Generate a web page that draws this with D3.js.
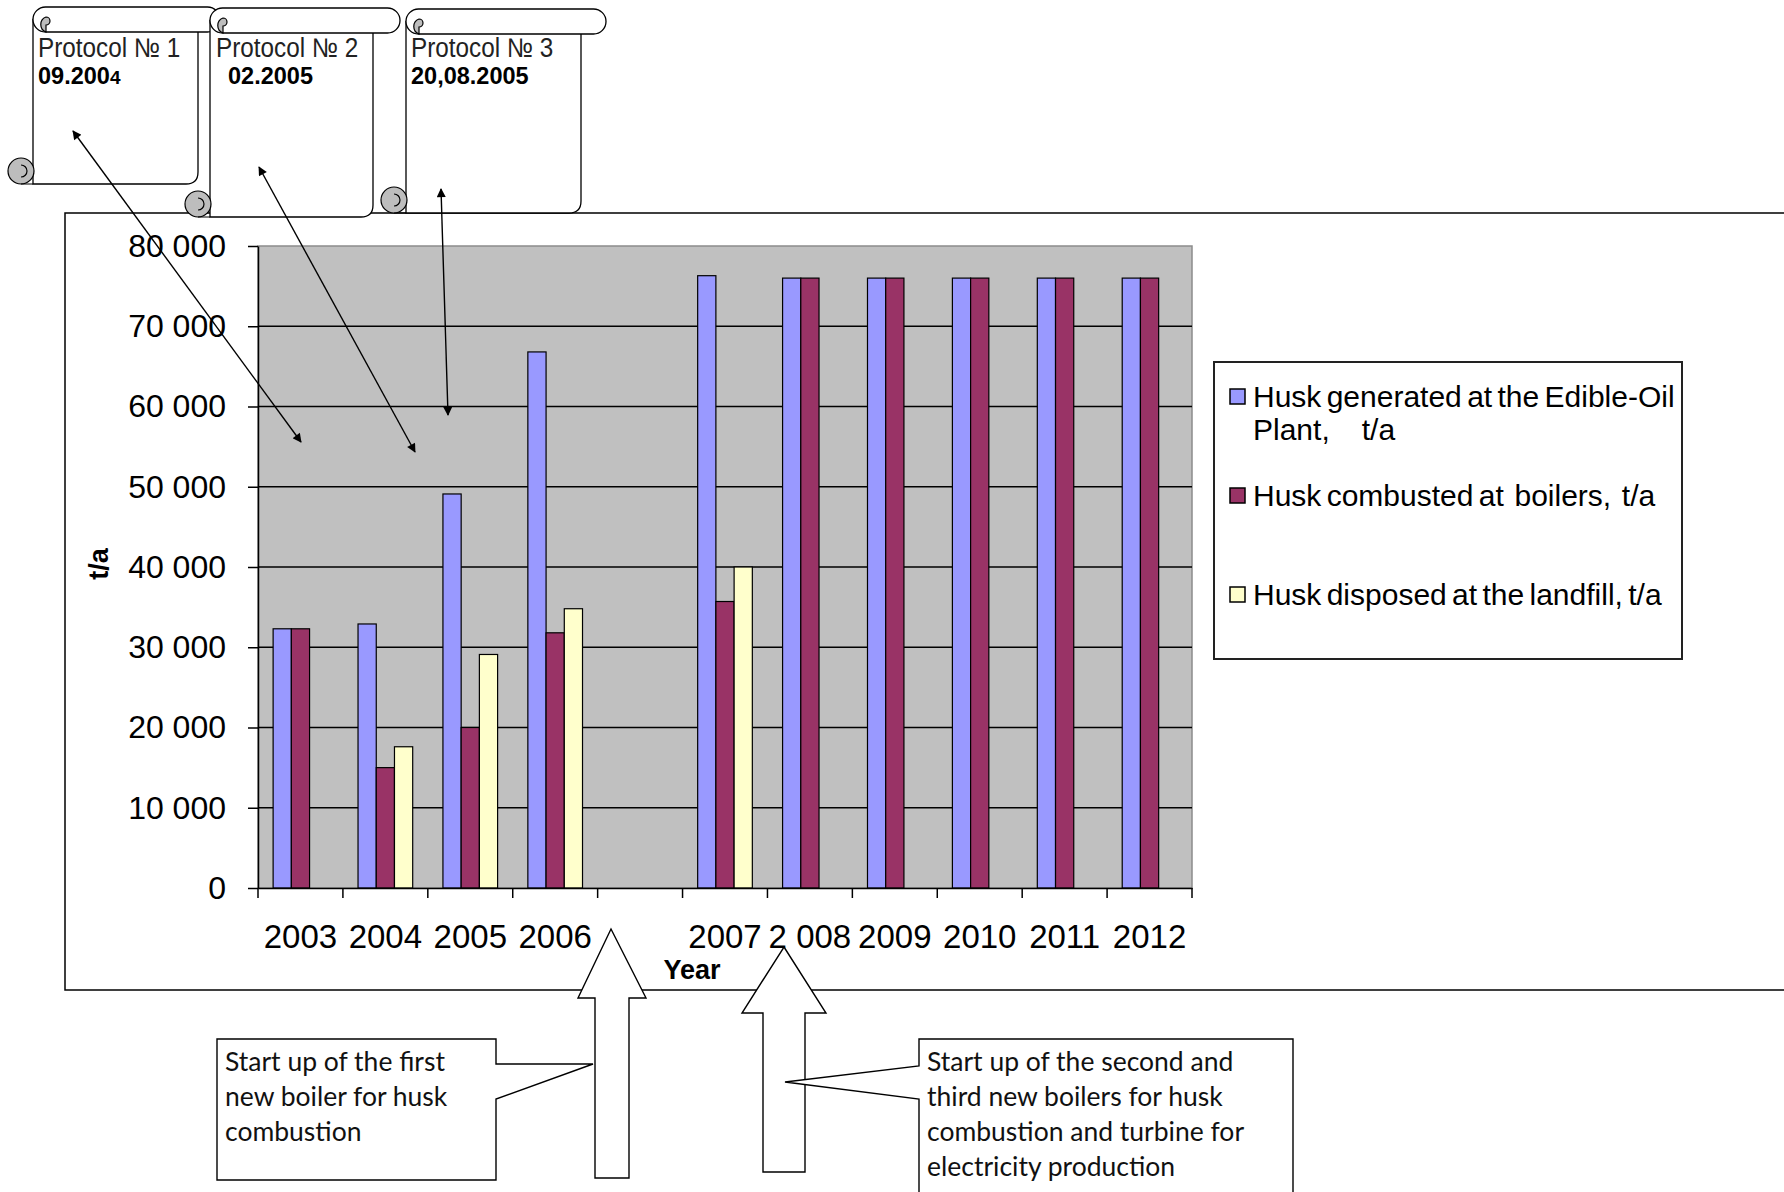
<!DOCTYPE html>
<html>
<head>
<meta charset="utf-8">
<script src="https://cdn.jsdelivr.net/npm/d3@7"></script>
<style>
body { margin: 0; background: #fff; }
text { font-family: "Liberation Sans", Arial, sans-serif; }
</style>
</head>
<body>
<div id="chart-area"></div>
<script>
// data (t/a)
var years = ["2003", "2004", "2005", "2006", "", "2007", "2 008", "2009", "2010", "2011", "2012"];
var generated = [32300, 32900, 49100, 66800, null, 76300, 76000, 76000, 76000, 76000, 76000];
var combusted = [32300, 15000, 20000, 31800, null, 35700, 76000, 76000, 76000, 76000, 76000];
var disposed  = [null, 17600, 29100, 34800, null, 40000, null, null, null, null, null];
var seriesNames = [["Husk generated at the Edible-Oil", "Plant,      t/a"],
                   ["Husk combusted at  boilers,  t/a"],
                   ["Husk disposed at the landfill, t/a"]];
var seriesColors = ["#9999FF", "#993366", "#FFFFCC"];
var yTicks = [0, 10000, 20000, 30000, 40000, 50000, 60000, 70000, 80000];

var protocols = [
  {title: "Protocol № 1", date: "09.200", small: "4"},
  {title: "Protocol № 2", date: "02.2005", small: ""},
  {title: "Protocol № 3", date: "20,08.2005", small: ""}
];
var notes = [
  ["Start up of the first", "new boiler for husk", "combustion"],
  ["Start up of the second and", "third new boilers for husk", "combustion and turbine for", "electricity production"]
];

var W = 1784, H = 1192;
var plot = {left: 258, right: 1192, top: 246, bottom: 888};

var svg = d3.select("#chart-area").append("svg").attr("width", W).attr("height", H);

var defs = svg.append("defs");
defs.append("marker").attr("id", "head").attr("viewBox", "0 0 10 10").attr("refX", 9).attr("refY", 5)
  .attr("markerWidth", 11).attr("markerHeight", 9).attr("markerUnits", "userSpaceOnUse")
  .attr("orient", "auto-start-reverse")
  .append("path").attr("d", "M0,0 L10,5 L0,10 Z").attr("fill", "#000");

// outer chart frame
svg.append("rect").attr("x", 65).attr("y", 213).attr("width", W).attr("height", 990 - 213)
  .attr("fill", "#fff").attr("stroke", "#000").attr("stroke-width", 1.5);

var x = d3.scaleBand().domain(d3.range(years.length)).range([plot.left, plot.right]).padding(0);
var x1 = d3.scaleBand().domain([0, 1, 2]).range([0, x.bandwidth()]).paddingInner(0).paddingOuter(0.83);
var y = d3.scaleLinear().domain([0, 80000]).range([plot.bottom, plot.top]);

svg.append("rect").attr("x", plot.left).attr("y", plot.top)
  .attr("width", plot.right - plot.left).attr("height", plot.bottom - plot.top)
  .attr("fill", "#C0C0C0").attr("stroke", "#8c8c8c").attr("stroke-width", 1.5);

// gridlines
svg.append("g").selectAll("line").data(yTicks.filter(function(d) { return d > 0 && d < 80000; })).enter().append("line")
  .attr("x1", plot.left).attr("x2", plot.right)
  .attr("y1", function(d) { return y(d); }).attr("y2", function(d) { return y(d); })
  .attr("stroke", "#000").attr("stroke-width", 1.5);

// bars
var series = [generated, combusted, disposed];
var barData = [];
series.forEach(function(vals, s) {
  vals.forEach(function(v, i) { if (v != null) barData.push({i: i, s: s, v: v}); });
});
svg.append("g").selectAll("rect").data(barData).enter().append("rect")
  .attr("x", function(d) { return x(d.i) + x1(d.s); })
  .attr("y", function(d) { return y(d.v); })
  .attr("width", x1.bandwidth())
  .attr("height", function(d) { return y(0) - y(d.v); })
  .attr("fill", function(d) { return seriesColors[d.s]; })
  .attr("stroke", "#000").attr("stroke-width", 1.2);

// y axis
var fmt = function(d) { return d3.format(",")(d).replace(/,/g, " "); };
var yAxis = svg.append("g").attr("transform", "translate(" + plot.left + ",0)")
  .call(d3.axisLeft(y).tickValues(yTicks).tickSize(10).tickSizeOuter(0).tickPadding(22).tickFormat(fmt));
yAxis.selectAll("text").attr("font-size", "32px").attr("fill", "#000")
  .style("font-family", "'Liberation Sans', Arial, sans-serif");
yAxis.selectAll("line").attr("stroke", "#000").attr("stroke-width", 1.5);
yAxis.select(".domain").attr("stroke", "#000").attr("stroke-width", 1.5);

// x axis: labels centred in bands, ticks on band edges
var xAxis = svg.append("g").attr("transform", "translate(0," + plot.bottom + ")")
  .call(d3.axisBottom(x).tickSize(0).tickPadding(37).tickFormat(function(i) { return years[i]; }));
xAxis.selectAll("text").attr("font-size", "33px").attr("fill", "#000")
  .style("font-family", "'Liberation Sans', Arial, sans-serif");
xAxis.select(".domain").attr("stroke", "#000").attr("stroke-width", 1.5);
var edges = d3.range(years.length).map(function(i) { return x(i); }).concat([plot.right]);
xAxis.selectAll(".edge").data(edges).enter().append("line").attr("class", "edge")
  .attr("x1", function(d) { return d; }).attr("x2", function(d) { return d; })
  .attr("y1", 0).attr("y2", 10).attr("stroke", "#000").attr("stroke-width", 1.5);

svg.append("text").attr("x", 692).attr("y", 979).attr("text-anchor", "middle")
  .attr("font-size", "27px").attr("font-weight", "bold").text("Year");
svg.append("text").attr("transform", "translate(108,564) rotate(-90)").attr("text-anchor", "middle")
  .attr("font-size", "27px").attr("font-weight", "bold").text("t/a");

// legend
var leg = svg.append("g");
leg.append("rect").attr("x", 1214).attr("y", 362).attr("width", 468).attr("height", 297)
  .attr("fill", "#fff").attr("stroke", "#222").attr("stroke-width", 2);
var legY = [389, 488, 587];
seriesNames.forEach(function(lines, s) {
  leg.append("rect").attr("x", 1230).attr("y", legY[s]).attr("width", 15).attr("height", 15)
    .attr("fill", seriesColors[s]).attr("stroke", "#000").attr("stroke-width", 1.5);
  var t = leg.append("text").attr("x", 1253).attr("y", legY[s] + 18).attr("font-size", "30px")
    .style("word-spacing", "-3px").style("white-space", "pre");
  lines.forEach(function(l, k) {
    t.append("tspan").attr("x", 1253).attr("dy", k ? 33 : 0).text(l);
  });
});

// protocol scrolls
var scrolls = [
  {L: 33, R: 220, br: 198, T: 7, B: 184, tx: 38, dx: 38},
  {L: 210, R: 400, br: 373, T: 8, B: 217, tx: 216, dx: 228},
  {L: 406, R: 606, br: 581, T: 9, B: 213, tx: 411, dx: 411}
];
scrolls.forEach(function(s, k) {
  var g = svg.append("g");
  var rh = 25, br = s.br;
  g.append("path").attr("d", "M" + s.L + "," + (s.T + rh / 2) + " V" + s.B + " H" + (br - 12) +
      " Q" + br + "," + s.B + " " + br + "," + (s.B - 12) + " V" + (s.T + rh / 2) + " Z")
    .attr("fill", "#fff").attr("stroke", "#000").attr("stroke-width", 1.3);
  g.append("rect").attr("x", s.L).attr("y", s.T).attr("width", s.R - s.L).attr("height", rh)
    .attr("rx", rh / 2).attr("fill", "#fff").attr("stroke", "#000").attr("stroke-width", 1.3);
  g.append("path").attr("d", "M" + (s.L + 13) + "," + (s.T + rh) + " a8,8 0 0 1 0,-15 a4,4 0 0 1 0,8 Z")
    .attr("fill", "#bdbdbd").attr("stroke", "#000").attr("stroke-width", 1.2);
  var cx = s.L - 12, cy = s.B - 13;
  g.append("circle").attr("cx", cx).attr("cy", cy).attr("r", 13)
    .attr("fill", "#bdbdbd").attr("stroke", "#000").attr("stroke-width", 1.2);
  g.append("path").attr("d", "M" + cx + "," + (cy - 6) + " a6,6 0 0 1 0,12 M" + cx + "," + (cy + 13) + " H" + s.L)
    .attr("fill", "none").attr("stroke", "#000").attr("stroke-width", 1.2);
  g.append("text").attr("transform", "translate(" + s.tx + ",57) scale(0.9,1)")
    .attr("font-size", "27px").attr("fill", "#222").text(protocols[k].title);
  var d = g.append("text").attr("x", s.dx).attr("y", 84).attr("font-size", "23.5px")
    .attr("font-weight", "bold").text(protocols[k].date);
  if (protocols[k].small) d.append("tspan").attr("font-size", "19px").text(protocols[k].small);
});

// thin arrows from scrolls into the plot
var pointers = [[73, 131, 301, 442], [259, 167, 415, 452], [441, 189, 448, 415]];
svg.append("g").selectAll("line").data(pointers).enter().append("line")
  .attr("x1", function(d) { return d[0]; }).attr("y1", function(d) { return d[1]; })
  .attr("x2", function(d) { return d[2]; }).attr("y2", function(d) { return d[3]; })
  .attr("stroke", "#000").attr("stroke-width", 1.4)
  .attr("marker-start", "url(#head)").attr("marker-end", "url(#head)");

// block arrows
var blocks = [
  {tip: 611, top: 929, hl: 578, hr: 646, sl: 595, sr: 629, base: 998, bot: 1178},
  {tip: 784, top: 947, hl: 742, hr: 826, sl: 763, sr: 805, base: 1013, bot: 1172}
];
svg.append("g").selectAll("path").data(blocks).enter().append("path")
  .attr("d", function(b) {
    return "M" + b.tip + "," + b.top + " L" + b.hr + "," + b.base + " H" + b.sr + " V" + b.bot +
      " H" + b.sl + " V" + b.base + " H" + b.hl + " Z";
  })
  .attr("fill", "#fff").attr("stroke", "#000").attr("stroke-width", 1.4);

// callouts
var callouts = [
  {d: "M217,1039 H496 V1064 L593,1064 L496,1099 V1180 H217 Z", tx: 225},
  {d: "M919,1039 H1293 V1200 H919 V1099 L785,1082 L919,1066 Z", tx: 927}
];
callouts.forEach(function(c, k) {
  svg.append("path").attr("d", c.d).attr("fill", "#fff").attr("stroke", "#000").attr("stroke-width", 1.4);
  notes[k].forEach(function(l, j) {
    svg.append("text").attr("x", c.tx).attr("y", 1071 + j * 35).attr("font-size", "26.5px")
      .style("font-family", "Lato, 'Liberation Sans', sans-serif").attr("fill", "#111").text(l);
  });
});
</script>
</body>
</html>
